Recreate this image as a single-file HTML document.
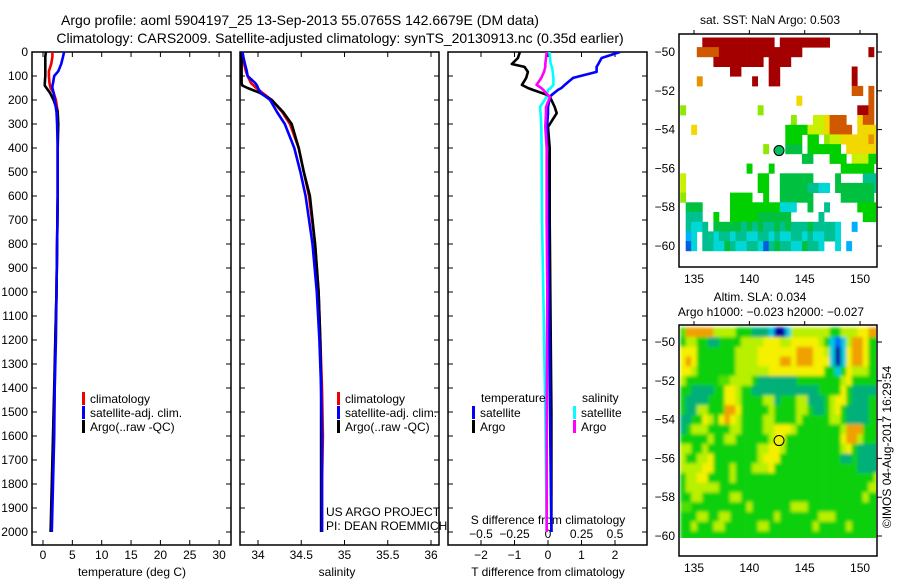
<!DOCTYPE html>
<html><head><meta charset="utf-8"><style>
body{margin:0;background:#fff;}
svg{display:block;font-family:"Liberation Sans",sans-serif;}
text{fill:#000;}
</style></head><body>
<svg id="c" width="900" height="580" viewBox="0 0 900 580" xmlns="http://www.w3.org/2000/svg">
<defs>
<clipPath id="cp1"><rect x="32" y="52" width="199" height="493"/></clipPath>
<clipPath id="cp2"><rect x="240" y="52" width="199" height="493"/></clipPath>
<clipPath id="cp3"><rect x="448" y="52" width="199" height="493"/></clipPath>
<clipPath id="cm1"><rect x="680" y="35" width="196" height="231"/></clipPath>
<clipPath id="cm2"><rect x="680" y="326" width="196" height="212"/></clipPath>
<filter id="bl" x="-5%" y="-5%" width="110%" height="110%"><feGaussianBlur stdDeviation="1.6"/></filter>
</defs>
<text x="300" y="25" font-size="14" text-anchor="middle">Argo profile: aoml 5904197_25 13-Sep-2013 55.0765S 142.6679E (DM data)</text>
<text x="340" y="43" font-size="14" text-anchor="middle">Climatology: CARS2009. Satellite-adjusted climatology: synTS_20130913.nc (0.35d earlier)</text>
<g id="axes"></g>
<g id="maps"></g>
</svg>
<script>
// ---- profile data ----
const depthP = [0,20,50,80,100,130,140,150,170,200,250,300,400,500,600,800,1000,1200,1400,1600,1800,2000];
const climT = [1.6,1.6,1.4,1.0,1.0,1.1,1.2,1.3,1.8,2.2,2.5,2.5,2.5,2.5,2.5,2.4,2.3,2.1,2.0,1.8,1.6,1.4];
const satT  = [3.6,3.4,3.1,2.6,1.9,1.7,1.6,1.6,1.8,2.0,2.3,2.4,2.5,2.5,2.5,2.4,2.3,2.2,2.0,1.9,1.7,1.5];
const argoT = [0.5,0.4,0.4,0.4,0.4,0.3,0.3,0.6,1.2,1.8,2.5,2.6,2.5,2.5,2.5,2.4,2.3,2.1,1.9,1.7,1.5,1.3];
const climS = [33.82,33.83,33.84,33.86,33.88,33.92,33.95,33.98,34.05,34.16,34.28,34.37,34.47,34.53,34.59,34.66,34.70,34.72,34.74,34.75,34.74,34.74];
const satS  = [33.82,33.83,33.85,33.87,33.88,33.97,33.99,34.0,34.03,34.14,34.22,34.31,34.42,34.49,34.55,34.63,34.68,34.71,34.73,34.74,34.74,34.74];
const argoS = [33.81,33.81,33.81,33.81,33.81,33.81,33.82,33.88,34.02,34.16,34.29,34.39,34.47,34.53,34.60,34.66,34.70,34.72,34.73,34.73,34.73,34.73];
const depthD = [0,25,50,62,83,108,137,150,158,180,187,229,255,312,400,700,1000,1500,2000];
const dTargo = [-0.84,-0.9,-1.08,-0.7,-0.6,-0.65,-0.78,-0.6,-0.45,0.0,0.06,0.2,0.26,0.0,0.05,0.05,0.07,0.1,0.1];
const dTsat  = [2.15,1.6,1.5,1.45,1.45,0.75,0.5,0.4,0.3,0.1,0.06,0.0,0.0,-0.03,-0.03,0.0,0.03,0.06,0.1];
const dSargo = [-0.01,-0.015,-0.02,-0.02,-0.03,-0.05,-0.085,-0.05,-0.035,0.0,0.015,-0.015,-0.015,-0.02,-0.01,-0.01,-0.005,-0.01,-0.01];
const dSsat  = [0.01,0.015,0.02,0.03,0.035,0.04,0.04,0.02,0.0,-0.01,-0.01,-0.06,-0.055,-0.05,-0.048,-0.045,-0.035,-0.02,-0.01];
const depthTicks = [0,100,200,300,400,500,600,700,800,900,1000,1100,1200,1300,1400,1500,1600,1700,1800,1900,2000];
const tempTicks = [0,5,10,15,20,25,30];
const salTicks = [34,34.5,35,35.5,36];
const dTTicks = [-2,-1,0,1,2];
const dSTicks = [-0.5,-0.25,0,0.25,0.5];
const dSTickLabels = ["\u22120.5","\u22120.25","0","0.25","0.5"];
// ---- map data ----
const sstPalette = {R:"#a50000",O:"#d05800",o:"#e89000",Y:"#f0d800",y:"#c8f000",L:"#90e800",G:"#00d000",g:"#00c040",T:"#00c090",C:"#00d8d8",B:"#00b0ff",D:"#0060e0"};
const sstRows = [
"....RRRRRRRRRRRRR.RRRRRRRRR.........",
"...OOOORRRRRRRRRRRRRRR............R.",
"......RRRRRRRRR.RRRR................",
".........RR.....RR.............R....",
"...o.........R..RR.............R....",
"...............................OO.O.",
".....................Y............O.",
"L.............L.................RRO.",
"....................L...yyYOOO..YOO.",
"..Y................GGGGyyyYOOOO.YYYY",
"...................GGG.GG.LyyYYYYYoY",
"...............L...ggg.GGGGGG.YYYYYY",
"......................gg...GGG.yyyGG",
"............G...G............GGGGGG.",
"y.............GG..gggggg....g....TTT",
"y.............GG..gggggTTCC.gggggggT",
"L........GGGG..G..gggggg.....gggggg.",
".ggg.....GGGGGGGGGCCC..g..T.....GGGG",
".TTT..G..GGGGGgggggg.....T.......GGG",
".TCCT.gggggTgTgTTgTgTTTgTTTTC..B....",
".BC.TTCTTCTTCCTTCTCCTTCTCCTTC.......",
".DC.TTCCgTCCTTCDTgTTCCgTTC..C.B....."
];
const slaPalette = {G:"#10d010",g:"#50e000",y:"#b8f000",Y:"#f4f000",O:"#f0a000",T:"#00b078",C:"#00c8e0",B:"#0060ff",N:"#0000a0"};
const slaRows = [
"gOOOOOyyyyGGGTTTCNNCyyyyyyyGGyyyYYOO",
"GyyGGTTGGGGyyyyYYYyyYYYYYyGCBCyOOYGG",
"YYYGGGGGGGyyyyYYYYYYYOOOYYyCNCYOOYGG",
"YOYGGGGGGGyyyyYYYYOOYOOOYYYCNCYOOYGG",
"YYyGGGGGGGyyyyyyYYYYYYYYYYGGCGYyyyGG",
"yGGGGGGggyyyyGTTTTTTTGGGGGGGGyYGGGGG",
"GGTTTTGGYYyGGTTTTTTTTTTTTGGGGYGTTTTT",
"GTTTTGGGYYyGGGGyyTGGGyyTTTGyYYGTTTGG",
"GTTyyGGGOOYGGGGGyGGGGyyGTTGyYGTTTTGG",
"TTGGYyGYOYyGGGGyyGGGGyGGGGGyyGTTTTGG",
"TGyyyGGGGyyGGGGyyYYYyGGGGGGGGyOOOGGG",
"GGGGGyGGyyGGGGGGyYYGGGGGGGGGGYOOyGGG",
"yyGGyGGGGGGGGGyyYYyGGGGGGGGGGyYGTTTT",
"yGGyyYGGGGGGGGyYYYGGGGGGGGGGGTTGTTTT",
"yyyyYYGGGyGGGyyyYGGGGGGGGGGGGGGGTTTT",
"GyyYYGGGGyGGGGGGGGGGGGGGGGGGGGGGGGGy",
"GyyyyyyGGGGGGGGGGGGGGGGGGGGGGGGGGGyy",
"GGyyGGGGGyyGGGGGGGGGGGGGGGGGGGGGGyGG",
"ggGGGGGGGGGGyGGGGGGGyyyGGGGGGGGGGGGG",
"GGGyyGGyyGGGGGGGGyGGGGGGGyyyGGGGGGGG",
"GGyGGGyyGGGGGGyyGGGGGGGGyGGGGGyGGGGG",
"GGGGGGGGGGGGGGGGGGGGGGGGGGGGGGGGGGGG"
];
const mapLatTicks = [-50,-52,-54,-56,-58,-60];
const mapLonTicks = [135,140,145,150];
const argoLon = 142.68, argoLat = -55.08;

// ---- scales ----
const yD = d => 52 + d*0.24;
const xT = t => 43 + t*5.87;
const xS = s => 258 + (s-34)*86.5;
const xDT = v => 548 + v*33.5;
const xDS = v => 548 + v*134;
const lonX = l => 694 + (l-135)*11.07;
const latY1 = l => 52 + (-50-l)*19.4;
const latY2 = l => 342 + (-50-l)*19.4;

const NS = "http://www.w3.org/2000/svg";
const axes = document.getElementById('axes');
const maps = document.getElementById('maps');
function mk(tag, attrs, parent){const e=document.createElementNS(NS,tag);for(const k in attrs)e.setAttribute(k,attrs[k]);(parent||axes).appendChild(e);return e;}
function txt(x,y,s,size,anchor,parent){const e=mk('text',{x:x,y:y,'font-size':size||12,'text-anchor':anchor||'middle'},parent);e.textContent=s;return e;}

const panels=[{x:32,name:'temperature-panel'},{x:240,name:'salinity-panel'},{x:448,name:'difference-panel'}];
panels.forEach(p=>{
  const r=mk('rect',{x:p.x,y:52,width:199,height:493,fill:'none',stroke:'#000','stroke-width':1.5});
  
  
  depthTicks.forEach(d=>{
    mk('line',{x1:p.x,x2:p.x+5,y1:yD(d),y2:yD(d),stroke:'#000'});
    mk('line',{x1:p.x+199,x2:p.x+194,y1:yD(d),y2:yD(d),stroke:'#000'});
  });
});
depthTicks.forEach(d=>{
  const t=txt(28,yD(d)+4,String(d),12,'end');
  
  
});
function xticks(vals,fx,labels,ly,top){
  vals.forEach((v,i)=>{
    mk('line',{x1:fx(v),x2:fx(v),y1:545,y2:540,stroke:'#000'});
    if(top) mk('line',{x1:fx(v),x2:fx(v),y1:52,y2:57,stroke:'#000'});
    const t=txt(fx(v),ly,labels?labels[i]:String(v),12);
    
    
  });
}
xticks(tempTicks,xT,null,559,true);
xticks(salTicks,xS,null,559,true);
xticks(dTTicks,xDT,["\u22122","\u22121","0","1","2"],559,true);
dSTicks.forEach((v,i)=>{
  const t=txt(xDS(v),538,dSTickLabels[i],12);
  
  
});
let t;
t=txt(132,576,'temperature (deg C)',12);
t=txt(337,576,'salinity',12);
t=txt(548,576,'T difference from climatology',12);
t=txt(548,524,'S difference from climatology',12);
t=txt(326,516,'US ARGO PROJECT',12,'start');
t=txt(326,530,'PI: DEAN ROEMMICH',12,'start');

function line(ds,vs,fx,color,cp,name){
  const pts=ds.map((d,i)=>fx(vs[i]).toFixed(1)+','+yD(d).toFixed(1)).join(' ');
  const e=mk('polyline',{points:pts,fill:'none',stroke:color,'stroke-width':2.6,'stroke-linejoin':'round','clip-path':'url(#'+cp+')'});
  
  
}
line(depthP,climT,xT,'#f00000','cp1','temperature-climatology-line');
line(depthP,argoT,xT,'#000','cp1','temperature-argo-line');
line(depthP,satT,xT,'#0000ff','cp1','temperature-satellite-line');
line(depthP,climS,xS,'#f00000','cp2','salinity-climatology-line');
line(depthP,argoS,xS,'#000','cp2','salinity-argo-line');
line(depthP,satS,xS,'#0000ff','cp2','salinity-satellite-line');
line(depthD,dSsat,xDS,'#00ffff','cp3','s-diff-satellite-line');
line(depthD,dTargo,xDT,'#000','cp3','t-diff-argo-line');
line(depthD,dTsat,xDT,'#0000ff','cp3','t-diff-satellite-line');
line(depthD,dSargo,xDS,'#ff00ff','cp3','s-diff-argo-line');

function legend(x,y,color,label){
  const g=mk('g',{});
  
  
  mk('rect',{x:x,y:y-6,width:3,height:13,fill:color},g);
  txt(x+8,y+5,label,12,'start',g);
}
legend(82,398,'#f00000','climatology');legend(82,412,'#0000ff','satellite-adj. clim.');legend(82,426,'#000','Argo(..raw -QC)');
legend(337,398,'#f00000','climatology');legend(337,412,'#0000ff','satellite-adj. clim.');legend(337,426,'#000','Argo(..raw -QC)');
t=txt(481,402,'temperature',12,'start');
t=txt(582,402,'salinity',12,'start');
legend(472,412,'#0000ff','satellite');legend(472,426,'#000','Argo');
legend(573,412,'#00ffff','satellite');legend(573,426,'#ff00ff','Argo');

function drawMap(rows,pal,latY,cp,name,blur){
  const g=mk('g',{'clip-path':'url(#'+cp+')'},maps);
  
  
  const inner=mk('g',blur?{filter:'url(#bl)'}:{},g);
  rows.forEach((row,j)=>{
    const lat=-49.5-0.5*j;
    for(let i=0;i<row.length;i++){
      const ch=row[i]; if(ch==='.')continue;
      const lon=134+0.5*i;
      const x0=lonX(lon-0.25), x1=lonX(lon+0.25), y0=latY(lat+0.25), y1=latY(lat-0.25);
      mk('rect',{x:x0.toFixed(1),y:y0.toFixed(1),width:(x1-x0+0.4).toFixed(1),height:(y1-y0+0.4).toFixed(1),fill:pal[ch]},inner);
    }
  });
}
drawMap(sstRows,sstPalette,latY1,'cm1','sst-map-cells',false);
drawMap(slaRows,slaPalette,latY2,'cm2','sla-map-cells',true);
function mapFrame(top,h,latY,name,circleFill){
  const r=mk('rect',{x:679,y:top,width:198,height:h,fill:'none',stroke:'#000','stroke-width':1.5},maps);
  
  
  mapLatTicks.forEach(l=>{
    mk('line',{x1:877,x2:882,y1:latY(l),y2:latY(l),stroke:'#000'},maps);
    const tt=txt(675,latY(l)+4,String(l).replace('-','\u2212'),12,'end',maps);
    
    
  });
  mapLonTicks.forEach(l=>{
    mk('line',{x1:lonX(l),x2:lonX(l),y1:top,y2:top-4,stroke:'#000'},maps);
    const tt=txt(lonX(l),top+h+12+4,String(l),12,'middle',maps);
    
    
  });
  const c=mk('circle',{cx:lonX(argoLon),cy:latY(argoLat),r:5,fill:circleFill,stroke:'#000','stroke-width':1},maps);
  
  
}
mapFrame(34,233,latY1,'sst-map','#00c060');
mapFrame(325,231,latY2,'sla-map','none');
t=txt(770,24,'sat. SST: NaN Argo: 0.503',12,'middle',maps);
t=txt(760,301,'Altim. SLA: 0.034',12,'middle',maps);
t=txt(771,316,'Argo h1000: \u22120.023 h2000: \u22120.027',12,'middle',maps);
t=txt(0,0,'\u00a9IMOS 04-Aug-2017 16:29:54',12,'middle',maps);
t.setAttribute('transform','translate(891,447) rotate(-90)');

</script>
</body></html>
